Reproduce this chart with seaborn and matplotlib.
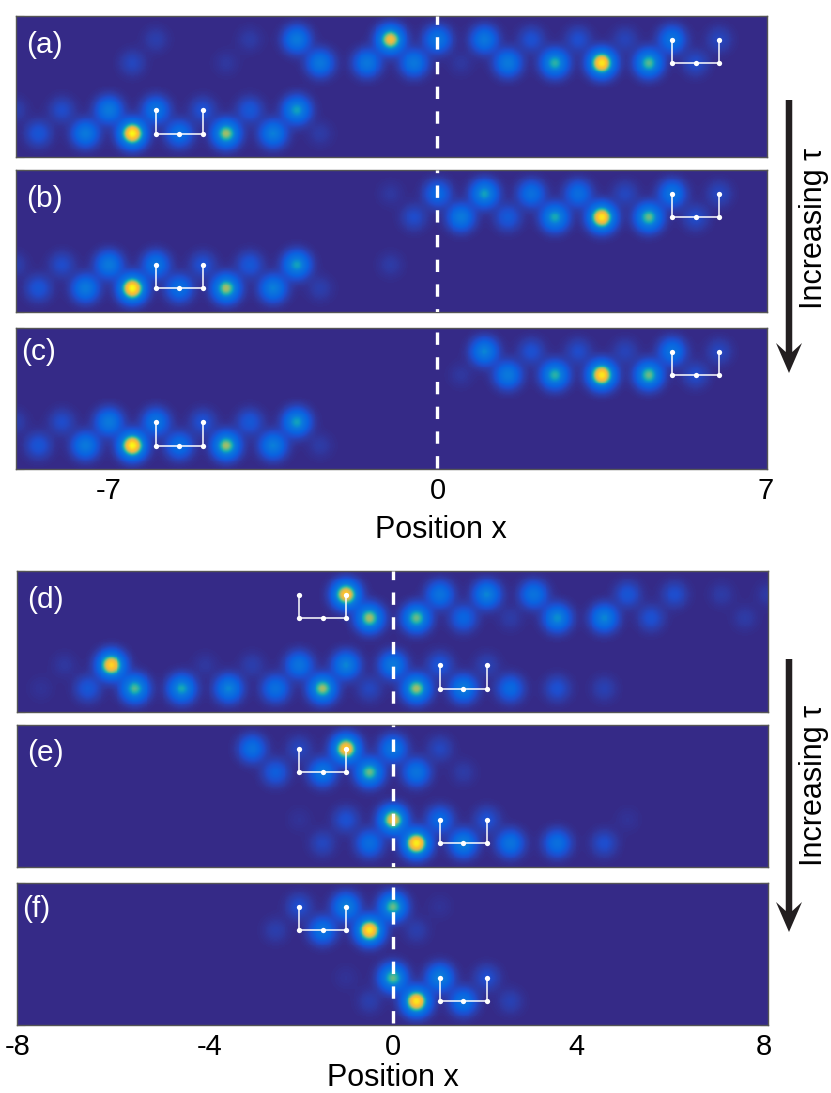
import numpy as np
import pandas as pd
import matplotlib
matplotlib.use("Agg")
import matplotlib.pyplot as plt
from matplotlib.colors import LinearSegmentedColormap
from matplotlib.patches import Polygon
import seaborn as sns

# lattice sites, upper rows sit on integers, lower rows on half integers
top_int_x = [-9, -8, -7, -6, -5, -4, -3, -2, -1, 0, 1, 2, 3, 4, 5, 6, 7]
top_half_x = [-8.5, -7.5, -6.5, -5.5, -4.5, -3.5, -2.5, -1.5, -0.5, 0.5, 1.5, 2.5, 3.5, 4.5, 5.5, 6.5]
bot_int_x = [-8, -7, -6, -5, -4, -3, -2, -1, 0, 1, 2, 3, 4, 5, 6, 7, 8]
bot_half_x = [-7.5, -6.5, -5.5, -4.5, -3.5, -2.5, -1.5, -0.5, 0.5, 1.5, 2.5, 3.5, 4.5, 5.5, 6.5, 7.5]

# peak intensity on each of the four rows, per panel
a_r1 = [0, 0, 0, .05, 0, .04, .38, 0, .82, .35, .36, .12, .11, .07, .33, .08, 0]
a_r2 = [0, 0, .08, 0, .03, 0, .36, .36, .36, .03, .38, .55, .95, .6, .1, 0]
a_r3 = [.05, .1, .38, .33, .12, .15, .5, 0, 0, 0, 0, 0, 0, 0, 0, 0, 0]
a_r4 = [.14, .38, 1, .3, .68, .4, .04, 0, 0, 0, 0, 0, 0, 0, 0, 0]

b_r1 = [0, 0, 0, 0, 0, 0, 0, 0, .03, .25, .5, .3, .28, .08, .33, .08, 0]
b_r2 = [0, 0, 0, 0, 0, 0, 0, 0, .1, .38, .16, .52, .95, .62, .1, 0]
b_r3 = [.05, .1, .38, .33, .12, .15, .5, 0, .04, 0, 0, 0, 0, 0, 0, 0, 0]
b_r4 = [.14, .38, 1, .3, .68, .4, .05, 0, 0, 0, 0, 0, 0, 0, 0, 0]

c_r1 = [0, 0, 0, 0, 0, 0, 0, 0, 0, 0, .42, .12, .1, .07, .33, .08, 0]
c_r2 = [0, 0, 0, 0, 0, 0, 0, 0, 0, .03, .38, .55, .95, .62, .1, 0]
c_r3 = [.05, .1, .38, .33, .12, .15, .5, 0, 0, 0, 0, 0, 0, 0, 0, 0, 0]
c_r4 = [.14, .38, 1, .3, .68, .4, .04, 0, 0, 0, 0, 0, 0, 0, 0, 0]

d_r1 = [0, 0, 0, 0, 0, 0, 0, .9, 0, .33, .42, .33, 0, .14, .11, .04, .04]
d_r2 = [0, 0, 0, 0, 0, 0, 0, .68, .62, .22, .04, .45, .42, .12, 0, .04]
d_r3 = [0, .03, .9, 0, .03, .05, .33, .42, .38, .14, .06, 0, 0, 0, 0, 0, 0]
d_r4 = [.02, .15, .6, .52, .42, .3, .68, .08, .68, .4, .25, .12, .06, 0, 0, 0]

e_r1 = [0, 0, 0, 0, 0, .3, .08, .9, .35, .08, 0, 0, 0, 0, 0, 0, 0]
e_r2 = [0, 0, 0, 0, 0, .18, .35, .62, .33, .04, 0, 0, 0, 0, 0, 0]
e_r3 = [0, 0, 0, 0, 0, 0, .02, .12, .82, .25, .12, 0, 0, .02, 0, 0, 0]
e_r4 = [0, 0, 0, 0, 0, 0, .08, .28, .97, .42, .33, .3, .11, 0, 0, 0]

f_r1 = [0, 0, 0, 0, 0, 0, .11, .42, .62, .02, 0, 0, 0, 0, 0, 0, 0]
f_r2 = [0, 0, 0, 0, 0, .05, .33, .95, .05, 0, 0, 0, 0, 0, 0, 0]
f_r3 = [0, 0, 0, 0, 0, 0, 0, .02, .62, .42, .11, 0, 0, 0, 0, 0, 0]
f_r4 = [0, 0, 0, 0, 0, 0, 0, .05, .95, .33, .06, 0, 0, 0, 0, 0]

# white unit cell sketches: x of the three sites
top_cell_1 = [5, 5.5, 6]
top_cell_2 = [-6, -5.5, -5]
bot_cell_1 = [-2, -1.5, -1]
bot_cell_2 = [1, 1.5, 2]

# tick marks in the lower figure sit a little inside the round numbers
top_tick_pos = [-7, 0, 7]
top_tick_labels = ["-7", "0", "7"]
bot_tick_pos = [-8, -3.9, 0, 3.9, 7.9]
bot_tick_labels = ["-8", "-4", "0", "4", "8"]

W, H = 831, 1093
CELL = 0.02
SIGMA = 0.175
ROW_Y = [1, 2, 4, 5]

parula = LinearSegmentedColormap.from_list("parula_like", [
    (0, "#352a87"), (.03, "#2f38a0"), (.1, "#1f4ccc"), (.2, "#0a62e0"), (.38, "#0a78dc"),
    (.46, "#0a90cc"), (.52, "#18a8b4"), (.58, "#40b49c"), (.65, "#88bd75"), (.75, "#e0b94c"),
    (.85, "#fdc22c"), (1, "#f9f914")])

sns.set_theme(style="white")
plt.rcParams['font.family'] = ['Liberation Sans', 'DejaVu Sans']
plt.rcParams['lines.scale_dashes'] = False
plt.rcParams['axes.unicode_minus'] = False


def px_rect(left, top, right, bottom):
    return [left / W, 1 - bottom / H, (right - left) / W, (bottom - top) / H]


def make_field(x0, x1, int_x, half_x, rows):
    xs = np.arange(x0 + CELL / 2, x1, CELL)
    ys = np.arange(CELL / 2, 3, CELL)
    gx, gy = np.meshgrid(xs, ys)
    field = np.zeros_like(gx)
    for i, row in enumerate(rows):
        sites = int_x if i % 2 == 0 else half_x
        for sx, amp in zip(sites, row):
            r2 = (gx - sx) ** 2 + (gy - ROW_Y[i] / 2) ** 2
            field += amp * np.exp(-r2 / (2 * SIGMA ** 2))
    return pd.DataFrame(field, index=ys, columns=xs)


def draw_panel(fig, rect, x0, x1, int_x, half_x, rows, cells, ticks, label, label_px, dash_start, top_ticks_here=None):
    ax = fig.add_axes(px_rect(*rect))
    df = make_field(x0, x1, int_x, half_x, rows)
    sns.heatmap(df, ax=ax, cmap=parula, vmin=0, vmax=1, cbar=False, xticklabels=False, yticklabels=False, rasterized=True)
    cx = lambda v: (np.asarray(v, dtype=float) - x0) / CELL
    cy = lambda r: r / 2 / CELL

    # dashed line at x = 0, phase read per panel
    period = 17.8
    ax.plot([cx(0), cx(0)], [0, df.shape[0]], color="white", lw=2.4,
            linestyle=(period - dash_start * 0.72, (8.9, period - 8.9)), zorder=3)

    for (xs, r_up, r_low) in cells:
        px = cx(xs)
        ax.plot([px[0], px[0], px[2], px[2]], [cy(r_up), cy(r_low), cy(r_low), cy(r_up)], color="white", lw=1.1, zorder=4)
        ax.plot([px[0], px[0], px[1], px[2], px[2]], [cy(r_up), cy(r_low), cy(r_low), cy(r_low), cy(r_up)],
                ls="none", marker="o", ms=3.8, mfc="white", mec="white", mew=0, zorder=5)

    for side in ax.spines.values():
        side.set_visible(True)
        side.set_color("#555555")
        side.set_linewidth(1.0)

    ax.set_xticks(cx(ticks))
    ax.set_xticklabels([])
    ax.tick_params(axis="x", direction="in", bottom=True, length=8, width=0.7, color="#222222", pad=6)
    top = ax.secondary_xaxis("top")
    top.set_xticks(cx(top_ticks_here if top_ticks_here is not None else ticks))
    top.set_xticklabels([])
    top.tick_params(direction="in", length=8, width=0.7, color="#222222")
    top.spines["top"].set_visible(False)
    ax.set_yticks([0, df.shape[0]])
    ax.set_yticklabels([])
    ax.tick_params(axis="y", direction="in", left=True, right=True, length=6, width=0.8, color="#555555")

    fig.text(label_px[0] / W, 1 - label_px[1] / H, label, color="white", fontsize=21.5, ha="left", va="center", zorder=10)
    return ax


def big_arrow(fig, x, y0, y1, text_x, text_y):
    pts = [(x - 3.25, y0), (x + 3.25, y0), (x + 3.25, y1 - 21), (x + 13, y1 - 30), (x, y1),
           (x - 13, y1 - 30), (x - 3.25, y1 - 21)]
    fig.add_artist(Polygon([(p / W, 1 - q / H) for p, q in pts], closed=True, transform=fig.transFigure,
                           facecolor="#231f20", edgecolor="none"))
    fig.text(text_x / W, 1 - text_y / H, "Increasing \u03c4", rotation=90, fontsize=22, color="black",
             ha="center", va="center")


fig = plt.figure(figsize=(W / 100, H / 100), dpi=100)

top_rows = [[a_r1, a_r2, a_r3, a_r4], [b_r1, b_r2, b_r3, b_r4], [c_r1, c_r2, c_r3, c_r4]]
top_rects = [(16, 16, 767, 157), (16, 170, 767, 312), (16, 328, 767, 469)]
top_labels = ["(a)", "(b)", "(c)"]
top_label_px = [(26, 45), (26, 199), (21, 352)]
top_dash = [20.7, 15, 4]
top_cells = [(top_cell_1, 1, 2), (top_cell_2, 4, 5)]
for i in range(3):
    ax = draw_panel(fig, top_rects[i], -8.98, 7.03, top_int_x, top_half_x, top_rows[i], top_cells, top_tick_pos,
                    top_labels[i], top_label_px[i], top_dash[i], top_ticks_here=[-4.9, 0, 7] if i == 1 else None)
ax.set_xticklabels(top_tick_labels, fontsize=21, color="black")
ax.set_xlabel("Position x", fontsize=22, color="black", labelpad=7, x=0.566)

bot_rows = [[d_r1, d_r2, d_r3, d_r4], [e_r1, e_r2, e_r3, e_r4], [f_r1, f_r2, f_r3, f_r4]]
bot_rects = [(17, 571, 768, 712), (17, 725, 768, 867), (17, 883, 768, 1025)]
bot_labels = ["(d)", "(e)", "(f)"]
bot_label_px = [(27, 600), (27, 753), (22, 909)]
bot_dash = [21, 14, 4]
bot_cells = [(bot_cell_1, 1, 2), (bot_cell_2, 4, 5)]
for i in range(3):
    ax = draw_panel(fig, bot_rects[i], -8.01, 8.0, bot_int_x, bot_half_x, bot_rows[i], bot_cells, bot_tick_pos,
                    bot_labels[i], bot_label_px[i], bot_dash[i])
ax.set_xticklabels(bot_tick_labels, fontsize=21, color="black")
ax.set_xlabel("Position x", fontsize=22, color="black", labelpad=1)

big_arrow(fig, 789, 100, 373, 814, 228)
big_arrow(fig, 789, 659, 932, 814, 785)

fig.savefig("out.png", dpi=100)
